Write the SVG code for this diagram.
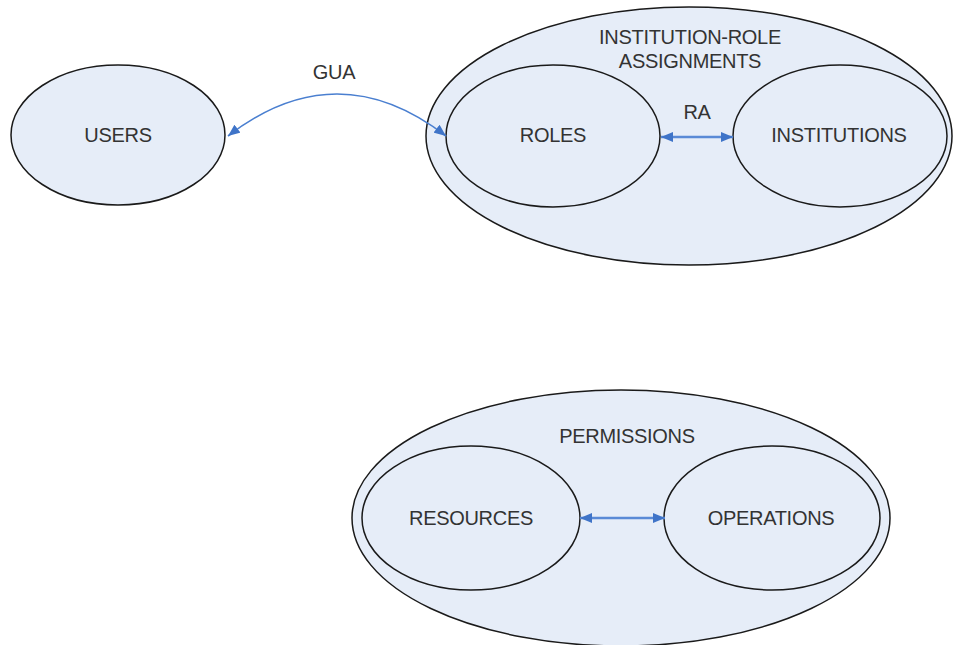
<svg xmlns="http://www.w3.org/2000/svg" width="953" height="645" viewBox="0 0 953 645">
  <style>
    .node { fill: #e6edf8; stroke: #1a1a1a; stroke-width: 1.5; }
    .label { font-family: "Liberation Sans", Arial, sans-serif; font-size: 20px; letter-spacing: -0.3px; fill: #333333; text-anchor: middle; dominant-baseline: central; }
    .link { fill: none; stroke: #4a7fd0; stroke-width: 1.6; }
    .link.thick { stroke-width: 2.4; stroke: #5a8ad6; }
  </style>
  <defs>
    <marker id="arrowEnd" viewBox="0 0 12 10" refX="12" refY="5" markerWidth="12" markerHeight="10" markerUnits="userSpaceOnUse" orient="auto">
      <path d="M0,0 L12,5 L0,10 Z" fill="#3f74c8"/>
    </marker>
    <marker id="arrowStart" viewBox="0 0 12 10" refX="0" refY="5" markerWidth="12" markerHeight="10" markerUnits="userSpaceOnUse" orient="auto">
      <path d="M12,0 L0,5 L12,10 Z" fill="#3f74c8"/>
    </marker>
  </defs>

  <rect width="953" height="645" fill="#ffffff"/>

  <!-- users -->
  <g id="users">
    <ellipse class="node" cx="118" cy="135" rx="107" ry="70"/>
    <text class="label" x="118" y="135">USERS</text>
  </g>

  <!-- institution-role assignments container -->
  <g id="institution-role-assignments">
    <ellipse class="node" cx="689" cy="136" rx="263" ry="129"/>
    <text class="label" x="690" y="37">INSTITUTION-ROLE</text>
    <text class="label" x="690" y="61">ASSIGNMENTS</text>
  </g>

  <g id="roles">
    <ellipse class="node" cx="553" cy="136" rx="107" ry="71"/>
    <text class="label" x="553" y="135">ROLES</text>
  </g>

  <g id="institutions">
    <ellipse class="node" cx="840" cy="136" rx="107" ry="71"/>
    <text class="label" x="839" y="135">INSTITUTIONS</text>
  </g>

  <!-- permissions container -->
  <g id="permissions">
    <ellipse class="node" cx="621" cy="518" rx="269" ry="128"/>
    <text class="label" x="627" y="436">PERMISSIONS</text>
  </g>

  <g id="resources">
    <ellipse class="node" cx="471" cy="518" rx="109" ry="72"/>
    <text class="label" x="471" y="518">RESOURCES</text>
  </g>

  <g id="operations">
    <ellipse class="node" cx="772" cy="518" rx="108" ry="72"/>
    <text class="label" x="771" y="518">OPERATIONS</text>
  </g>

  <!-- connectors -->
  <g id="connectors">
    <path class="link" d="M228,136 Q337,52 446,136" marker-start="url(#arrowStart)" marker-end="url(#arrowEnd)"/>
    <text class="label" x="334" y="72">GUA</text>
    <path class="link thick" d="M661,137 L733,137" marker-start="url(#arrowStart)" marker-end="url(#arrowEnd)"/>
    <text class="label" x="697" y="112">RA</text>
    <path class="link thick" d="M580,518 L665,518" marker-start="url(#arrowStart)" marker-end="url(#arrowEnd)"/>
  </g>
</svg>
